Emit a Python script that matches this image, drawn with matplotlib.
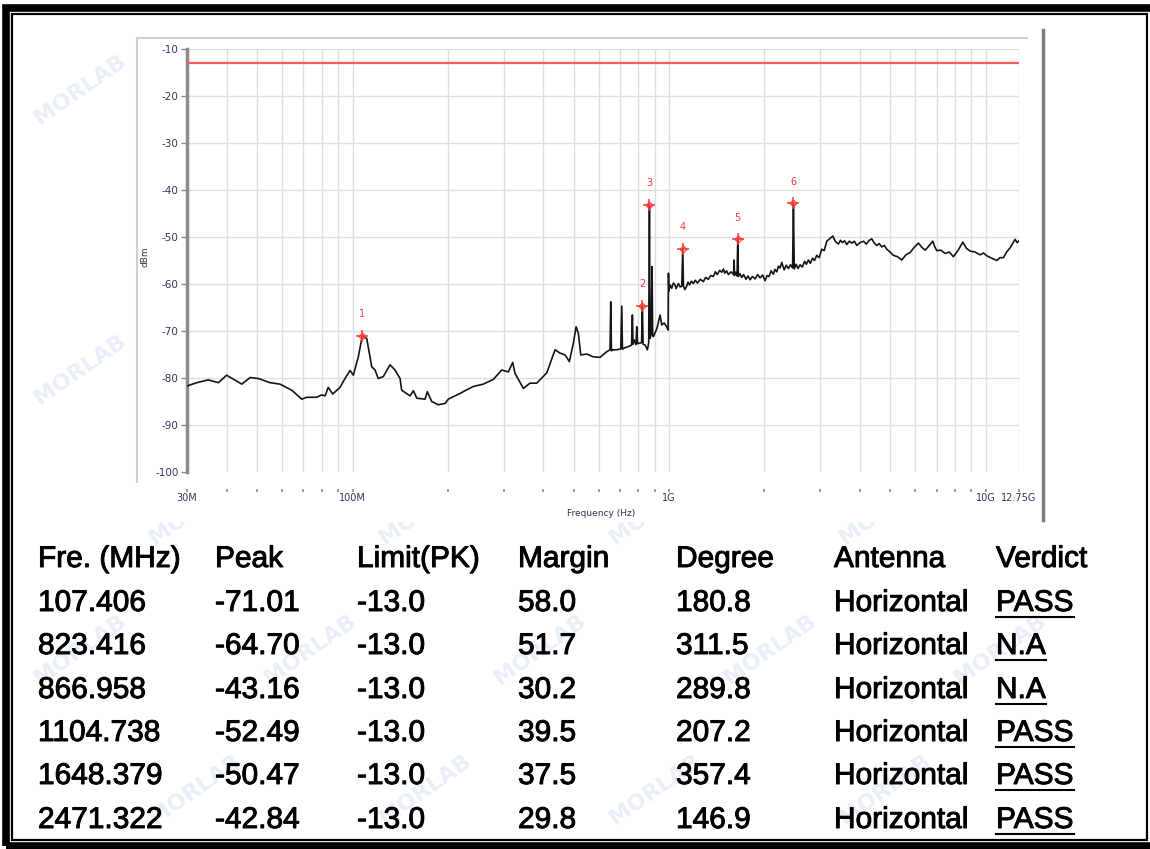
import matplotlib
matplotlib.use('Agg')
import matplotlib.pyplot as plt
import matplotlib.patheffects as pe
import numpy as np
from matplotlib.patches import Rectangle
from matplotlib.lines import Line2D

plt.rcParams['axes.unicode_minus'] = False

# ---------------- DATA ----------------
# spectrum trace, frequency in MHz, level in dBm
trace_freq = np.array([
    30.0, 32.2, 35.0, 37.7, 40.0, 44.7, 47.5, 50.4, 54.9, 59.0,
    64.3, 69.1, 71.7, 77.1, 79.9, 81.9, 83.8, 86.6, 91.3, 94.7,
    98.2, 100.6, 104.3, 107.4, 110.9, 115.0, 117.8, 120.6, 125.1, 131.4,
    136.2, 141.3, 143.0, 152.0, 155.7, 159.6, 169.5, 172.3, 177.9, 186.7,
    196.1, 200.8, 203.3, 218.6, 226.7, 240.8, 259.0, 278.6, 296.0, 310.6,
    320.7, 326.1, 346.5, 363.7, 382.0, 410.8, 436.3, 452.5, 469.3, 484.2,
    498.5, 508.5, 517.0, 526.1, 549.5, 576.5, 605.3, 635.6, 651.0, 654.3,
    657.5, 663.9, 683.6, 703.8, 709.0, 712.5, 717.2, 743.8, 761.3, 765.9,
    769.5, 775.3, 786.0, 790.7, 795.0, 804.0, 818.8, 823.4, 828.0, 840.0,
    854.3, 862.4, 866.96, 871.0, 878.0, 883.7, 887.5, 892.1, 915.0, 936.8,
    948.3, 965.0, 983.4, 992.7, 995.5, 999.0, 1007.4,
    1020, 1032, 1044.7, 1052, 1060, 1071, 1083.4, 1097, 1104.74, 1110.5,
    1122, 1137.4, 1148, 1160, 1176, 1193.3, 1210, 1230, 1255, 1283.3,
    1305, 1330, 1355, 1380.4, 1400, 1420, 1445, 1467.3, 1485, 1500,
    1520, 1539.6, 1570, 1599, 1604.6, 1610, 1625, 1640, 1648.38, 1656,
    1675, 1697, 1720, 1750, 1775, 1803, 1835, 1870, 1905, 1939,
    1975, 2011, 2040, 2070, 2100, 2136, 2160, 2190, 2215, 2243,
    2270, 2310, 2345, 2382, 2420, 2456, 2471.32, 2486, 2520, 2555,
    2594, 2635, 2680, 2715, 2755, 2795, 2840, 2880, 2928, 2980,
    3037, 3090, 3150, 3210, 3290, 3350, 3427, 3480, 3530, 3585,
    3643, 3710, 3780, 3850, 3918, 4010, 4111, 4200, 4290, 4370,
    4450, 4531, 4610, 4700, 4790, 4873, 4990, 5113, 5270, 5435,
    5600, 5774, 5950, 6134, 6290, 6441, 6620, 6811, 6900, 7012,
    7220, 7449, 7680, 7912, 8190, 8472, 8700, 8933, 9260, 9607,
    9850, 10088, 10450, 10849, 11100, 11382, 11650, 11951, 12170, 12394,
    12580, 12750,
])
trace_level = np.array([
    -81.7, -81.0, -80.4, -81.0, -79.4, -81.3, -79.9, -80.1, -81.0, -81.3,
    -82.6, -84.5, -84.1, -84.1, -83.6, -83.8, -82.0, -83.4, -82.0, -80.1,
    -78.4, -79.4, -75.5, -71.0, -71.6, -77.6, -78.3, -80.1, -79.7, -77.2,
    -78.3, -80.1, -82.6, -83.8, -82.7, -84.3, -84.5, -82.9, -85.0, -85.7,
    -85.4, -84.5, -84.3, -83.3, -82.7, -81.8, -81.3, -80.3, -78.3, -78.7,
    -76.7, -79.0, -82.2, -81.1, -81.1, -78.9, -74.0, -74.7, -75.1, -76.5,
    -72.6, -69.1, -70.5, -75.1, -74.9, -75.5, -75.6, -74.4, -74.0, -63.8,
    -74.2, -74.0, -74.0, -73.8, -64.7, -73.9, -73.7, -73.3, -73.0, -66.6,
    -72.8, -71.9, -72.9, -69.1, -72.7, -72.6, -72.5, -64.7, -72.8, -73.0,
    -74.0, -72.5, -43.16, -71.6, -70.5, -56.3, -71.0, -71.2, -69.5, -66.6,
    -68.7, -68.3, -69.1, -69.8, -57.7, -61.5, -60.2,
    -60.9, -59.8, -60.2, -61.0, -60.5, -59.9, -60.6, -60.5, -52.49, -60.5,
    -61.2, -60.4, -59.6, -60.2, -59.4, -59.9, -59.2, -59.8, -59.0, -59.5,
    -58.6, -59.0, -58.2, -58.4, -57.4, -58.0, -57.1, -57.5, -56.8, -57.7,
    -57.2, -58.0, -57.4, -58.0, -54.9, -58.2, -57.5, -58.3, -50.47, -58.4,
    -57.8, -58.6, -58.0, -59.0, -58.3, -59.1, -58.4, -58.9, -58.0, -58.7,
    -58.1, -59.3, -58.2, -58.4, -57.2, -57.9, -56.9, -57.4, -56.2, -56.6,
    -55.4, -57.0, -56.0, -56.7, -55.9, -56.6, -42.84, -56.8, -55.8, -56.7,
    -55.9, -56.4, -55.2, -55.8, -54.9, -55.6, -54.5, -55.0, -53.9, -54.4,
    -52.6, -52.9, -50.9, -50.4, -49.8, -50.9, -51.5, -50.7, -51.2, -50.8,
    -51.6, -50.9, -51.3, -50.9, -51.8, -51.2, -50.9, -51.5, -50.7, -50.4,
    -51.3, -51.8, -51.4, -52.1, -51.8, -52.6, -53.2, -53.9, -54.2, -54.9,
    -53.8, -53.3, -52.2, -51.3, -52.2, -52.8, -51.9, -50.9, -52.0, -52.9,
    -52.8, -53.5, -53.2, -54.2, -52.8, -51.1, -52.4, -53.0, -53.2, -53.8,
    -53.4, -54.0, -54.5, -55.0, -54.4, -54.4, -53.2, -52.3, -51.4, -50.5,
    -51.2, -50.8,
])

limit_dbm = -13.0

# marker / table values
fre_mhz = ['107.406', '823.416', '866.958', '1104.738', '1648.379', '2471.322']
peak = [-71.01, -64.70, -43.16, -52.49, -50.47, -42.84]
limit_pk = [-13.0] * 6
margin = [58.0, 51.7, 30.2, 39.5, 37.5, 29.8]
degree = [180.8, 311.5, 289.8, 207.2, 357.4, 146.9]
antenna = ['Horizontal'] * 6
verdict = ['PASS', 'N.A', 'N.A', 'PASS', 'PASS', 'PASS']

headers = ['Fre. (MHz)', 'Peak', 'Limit(PK)', 'Margin', 'Degree', 'Antenna', 'Verdict']

x_major = [30e6, 100e6, 1e9, 10e9, 12.75e9]
x_major_labels = ['30M', '100M', '1G', '10G', '12.75G']
x_minor = [40e6, 50e6, 60e6, 70e6, 80e6, 90e6,
           200e6, 300e6, 400e6, 500e6, 600e6, 700e6, 800e6, 900e6,
           2e9, 3e9, 4e9, 5e9, 6e9, 7e9, 8e9, 9e9]
y_ticks = [-100, -90, -80, -70, -60, -50, -40, -30, -20, -10]

# ---------------- FIGURE ----------------
W, H = 1150, 849


def fx(x):
    return x / W


def fy(y):
    return 1 - y / H


fig = plt.figure(figsize=(11.5, 8.49), dpi=100)
fig.patch.set_facecolor('white')

# watermark (kept inside the frame)
for row, wy in enumerate(range(90, 800, 140)):
    off = (row % 2) * 115
    for wx in range(80 + off, 1090, 230):
        fig.text(fx(wx), fy(wy), 'MORLAB', rotation=35, fontsize=16,
                 fontweight='bold', color='#e9eff8', ha='center',
                 va='center', zorder=0.1)

# opaque chart panel
fig.add_artist(Rectangle((fx(132), fy(522)), fx(1045) - fx(132),
                         fy(26) - fy(522), transform=fig.transFigure,
                         facecolor='white', edgecolor='none', zorder=0.5))
fig.add_artist(Line2D([fx(137), fx(137)], [fy(38), fy(482)],
                      transform=fig.transFigure, color='#cfcfcf', lw=1.5, zorder=0.6))
fig.add_artist(Line2D([fx(137), fx(1027)], [fy(38), fy(38)],
                      transform=fig.transFigure, color='#cfcfcf', lw=1.5, zorder=0.6))
fig.add_artist(Line2D([fx(1043), fx(1043)], [fy(30), fy(520)],
                      transform=fig.transFigure, color='#7a7a7a', lw=2.5, zorder=0.6))

# ---------------- SPECTRUM ----------------
ax = fig.add_axes([fx(187), fy(472), (1019 - 187) / W, (472 - 49) / H])
ax.set_zorder(2)
ax.set_xscale('log')
ax.set_xlim(30e6, 12.75e9)
ax.set_ylim(-100, -10)

for y in y_ticks[1:]:
    ax.axhline(y, color='#dedede', lw=1, zorder=1)
for x in x_minor + x_major[1:]:
    ax.axvline(x, color='#dedede', lw=1, zorder=1)

ax.axhline(limit_dbm, color='#ff5a5a', lw=1.6, zorder=3)

ax.plot(trace_freq * 1e6, trace_level, color='#151515', lw=1.2, zorder=4)

mk_freq = np.array([float(f) for f in fre_mhz]) * 1e6
ax.plot(mk_freq, peak, '+', color='#ff3535', ms=8, mew=1.1, zorder=5)
ax.plot(mk_freq, peak, 'D', mfc='none', mec='#ff3535', ms=3.5, mew=0.8, zorder=5)
for i, (f, p) in enumerate(zip(mk_freq, peak)):
    ax.annotate(str(i + 1), (f, p), xytext=(0, 12), textcoords='offset points',
                ha='center', va='bottom', fontsize=7, color='#ff3535')

ax.set_xticks(x_major)
ax.set_xticklabels(x_major_labels)
ax.set_xticks(x_minor, minor=True)
ax.set_xticklabels([], minor=True)
ax.set_yticks(y_ticks)

for side in ['top', 'right']:
    ax.spines[side].set_visible(False)
ax.spines['bottom'].set_position(('outward', 12))
ax.spines['bottom'].set_visible(False)
ax.spines['left'].set_color('#8c8c8c')
ax.spines['left'].set_linewidth(2.5)

ax.tick_params(axis='x', which='both', length=2, width=1.2, color='#8a8a8a',
               labelsize=7, labelcolor='#3b3260', pad=1)
ax.tick_params(axis='y', length=4, width=1, color='#8a8a8a',
               labelsize=7.5, labelcolor='#3b3260', pad=2)

fig.text(fx(601), fy(513), 'Frequency (Hz)', fontsize=6.5, color='#303050',
         ha='center', va='center')
fig.text(fx(145), fy(257), 'dBm', fontsize=6.5, color='#303050',
         rotation=90, ha='center', va='center')

# ---------------- TABLE ----------------
col_x = [38, 215, 357, 518, 676, 834, 996]
row_y = [559, 603, 646, 690, 733, 776, 820]
tfont = dict(fontsize=21.5, family='Liberation Sans', color='black',
             va='center', ha='left', zorder=3,
             path_effects=[pe.withStroke(linewidth=0.7, foreground='black')])

for cx, h in zip(col_x, headers):
    fig.text(fx(cx), fy(row_y[0]), h, **tfont)

verdict_texts = []
for r in range(6):
    cells = [fre_mhz[r], f'{peak[r]:.2f}', f'{limit_pk[r]:.1f}',
             f'{margin[r]:.1f}', f'{degree[r]:.1f}', antenna[r], verdict[r]]
    for c, (cx, s) in enumerate(zip(col_x, cells)):
        t = fig.text(fx(cx), fy(row_y[r + 1]), s, **tfont)
        if c == 6:
            verdict_texts.append((t, row_y[r + 1]))

fig.canvas.draw()
for t, ry in verdict_texts:
    bb = t.get_window_extent()
    fig.add_artist(Line2D([bb.x0 / W, bb.x1 / W], [fy(ry + 14)] * 2,
                          transform=fig.transFigure, color='black', lw=1.5, zorder=3))

# ---------------- BORDER ----------------
fig.add_artist(Rectangle((fx(5.5), fy(846)), fx(1160) - fx(5.5), fy(7.5) - fy(846),
                         transform=fig.transFigure, fill=False,
                         edgecolor='black', lw=5.5, zorder=10))
fig.add_artist(Rectangle((fx(12), fy(840)), fx(1147) - fx(12), fy(14) - fy(840),
                         transform=fig.transFigure, fill=False,
                         edgecolor='black', lw=1.6, zorder=10))

fig.savefig('out.png', dpi=100)
